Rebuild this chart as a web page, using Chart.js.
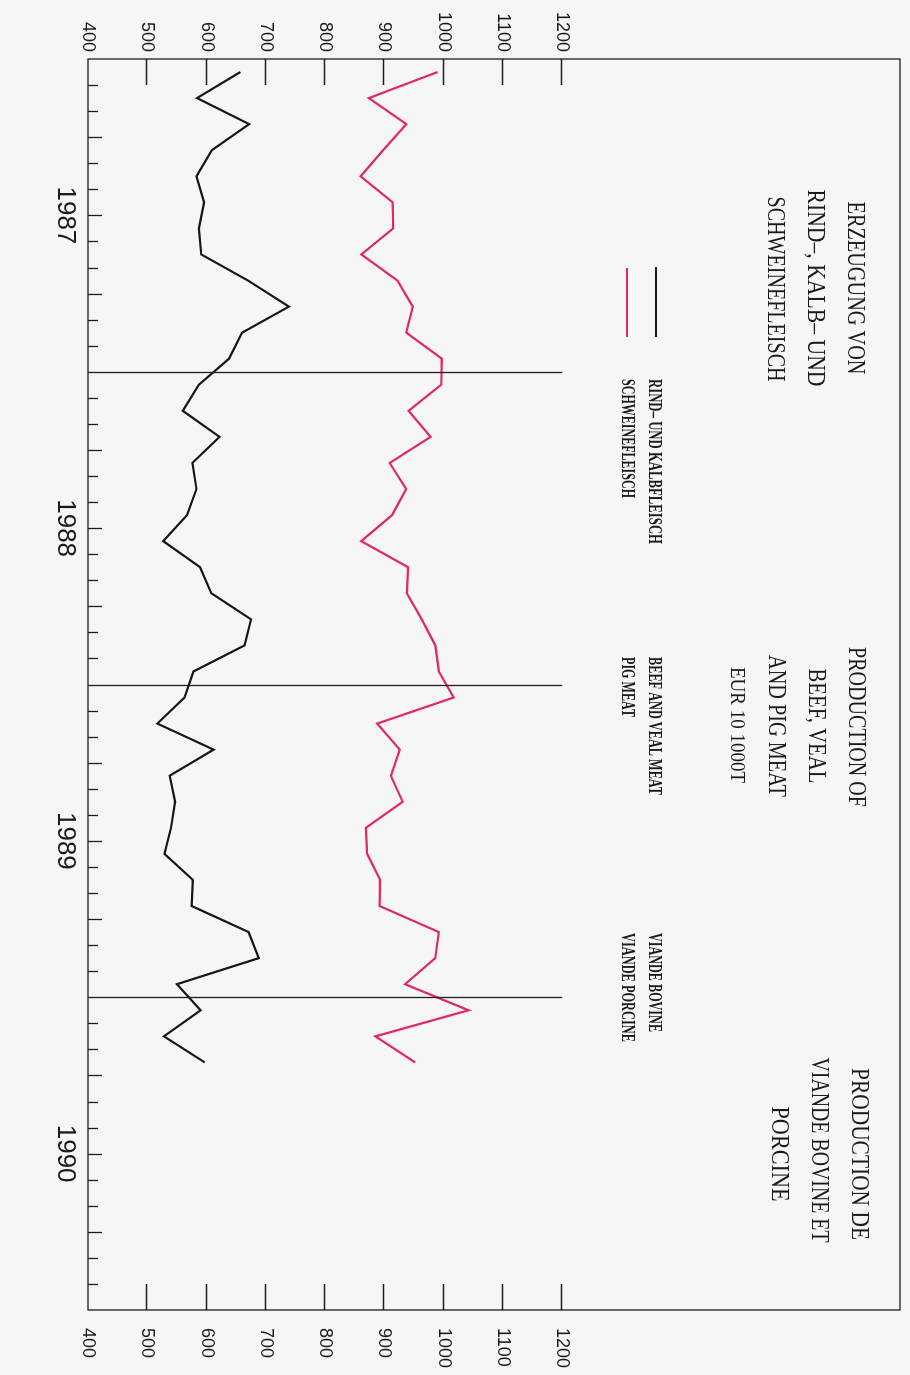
<!DOCTYPE html>
<html>
<head>
<meta charset="utf-8">
<title>Production of beef, veal and pig meat</title>
<script src="https://cdn.jsdelivr.net/npm/chart.js@4.4.0/dist/chart.umd.min.js"></script>
<style>
    html, body { margin: 0; padding: 0; background: #f6f6f6; overflow: hidden; }
    /* chart is drawn landscape, then turned a quarter clockwise like the printed page */
    #wrap {
        position: absolute; left: 0; top: 0;
        width: 1375px; height: 910px;
        transform-origin: 0 0;
        transform: translate(910px, 0) rotate(90deg);
    }
</style>
</head>
<body>
<div id="wrap"><canvas id="meatChart" width="1375" height="910"></canvas></div>
<script>
// Monthly production, EUR 10, 1000 t, from January 1987
const years = ['1987', '1988', '1989', '1990'];
const yTickValues = [400, 500, 600, 700, 800, 900, 1000, 1100, 1200];

const beefVeal = [657, 584, 672, 609, 583, 596, 587, 591, 670, 739, 660, 638,
                  587, 560, 622, 576, 583, 567, 527, 589, 608, 675, 664, 578,
                  563, 517, 612, 538, 547, 540, 529, 577, 575, 671, 688, 550,
                  590, 528, 597];
const pigMeat = [990, 874, 937, 898, 860, 914, 915, 861, 922, 948, 937, 997,
                 996, 941, 978, 909, 937, 913, 861, 940, 938, 963, 986, 992,
                 1017, 888, 926, 911, 931, 869, 871, 893, 892, 992, 986, 935,
                 1042, 885, 952];

const BLACK = '#161616';
const RED = '#e2295c';

// month index -> point in the middle of that month
function toPoints(values) {
    return values.map((v, i) => ({ x: i + 0.5, y: v }));
}

// Frame, inward ticks, year separators, titles and legend
const framePlugin = {
    id: 'frame',
    afterDraw(chart) {
        const ctx = chart.ctx;
        const area = chart.chartArea;
        const xs = chart.scales.x;
        const ys = chart.scales.y;

        ctx.save();
        ctx.strokeStyle = '#1e1e1e';
        ctx.lineWidth = 1.3;
        ctx.strokeRect(area.left, area.top, area.right - area.left, area.bottom - area.top);

        ctx.beginPath();
        for (let m = 1; m < years.length * 12; m++) {
            const px = Math.round(xs.getPixelForValue(m)) + 0.5;
            const len = m % 3 === 0 ? 14 : 10;
            ctx.moveTo(px, area.bottom);
            ctx.lineTo(px, area.bottom - len);
        }
        yTickValues.forEach(v => {
            if (v === yTickValues[0]) return;
            const py = Math.round(ys.getPixelForValue(v)) + 0.5;
            ctx.moveTo(area.left, py);
            ctx.lineTo(area.left + 26, py);
            ctx.moveTo(area.right, py);
            ctx.lineTo(area.right - 26, py);
        });
        for (let k = 1; k < years.length; k++) {
            const px = Math.round(xs.getPixelForValue(k * 12)) + 0.5;
            ctx.moveTo(px, ys.getPixelForValue(400));
            ctx.lineTo(px, ys.getPixelForValue(1200));
        }
        ctx.stroke();

        // titles in three languages
        const titleFont = '26px "Liberation Serif", "DejaVu Serif", serif';
        const titles = [
            ['ERZEUGUNG VON', 288, 55, 173, titleFont],
            ['RIND\u2013, KALB\u2013 UND', 288, 95, 197, titleFont],
            ['SCHWEINEFLEISCH', 289, 135, 185, titleFont],
            ['PRODUCTION OF', 727, 54, 160, titleFont],
            ['BEEF, VEAL', 726, 94, 115, titleFont],
            ['AND PIG MEAT', 726, 134, 142, titleFont],
            ['EUR 10 1000T', 725, 173, 116, '22px "Liberation Serif", "DejaVu Serif", serif'],
            ['PRODUCTION DE', 1154, 51, 172, titleFont],
            ['VIANDE BOVINE ET', 1150, 91, 185, titleFont],
            ['PORCINE', 1154, 131, 95, titleFont]
        ];
        ctx.fillStyle = '#1a1a1a';
        ctx.textAlign = 'center';
        ctx.textBaseline = 'middle';
        titles.forEach(t => {
            ctx.font = t[4];
            ctx.fillText(t[0], t[1], t[2], t[3]);
        });

        // legend
        ctx.lineWidth = 2.2;
        ctx.strokeStyle = BLACK;
        ctx.beginPath();
        ctx.moveTo(267, 254);
        ctx.lineTo(337, 254);
        ctx.stroke();
        ctx.strokeStyle = RED;
        ctx.beginPath();
        ctx.moveTo(268, 283);
        ctx.lineTo(337, 283);
        ctx.stroke();

        const legendFont = 'bold 18px "Liberation Serif", "DejaVu Serif", serif';
        const legendTexts = [
            ['RIND\u2013 UND KALBFLEISCH', 379, 256, 165],
            ['SCHWEINEFLEISCH', 379, 283, 119],
            ['BEEF AND VEAL MEAT', 657, 256, 138],
            ['PIG MEAT', 657, 283, 60],
            ['VIANDE BOVINE', 933, 256, 99],
            ['VIANDE PORCINE', 933, 283, 109]
        ];
        ctx.font = legendFont;
        ctx.textAlign = 'left';
        legendTexts.forEach(t => ctx.fillText(t[0], t[1], t[2], t[3]));
        ctx.restore();
    }
};

const tickFont = { family: '"Liberation Sans", Arial, sans-serif', size: 18 };

function valueLabel(v) {
    return yTickValues.includes(v) ? String(v) : '';
}

// no extra label padding, so the plot box lands where the printed one is
function noLabelPadding(scale) {
    scale.paddingTop = 0;
    scale.paddingBottom = 0;
    scale.paddingLeft = 0;
    scale.paddingRight = 0;
}

function valueAxis(position, width, padding) {
    return {
        type: 'linear',
        position: position,
        min: 400,
        max: 1770,
        afterFit: scale => { scale.width = width; noLabelPadding(scale); },
        grid: { display: false, drawTicks: false },
        border: { display: false },
        ticks: {
            stepSize: 100,
            autoSkip: false,
            padding: padding,
            color: '#1a1a1a',
            font: tickFont,
            callback: valueLabel
        }
    };
}

document.addEventListener('DOMContentLoaded', function() {
    const ctx = document.getElementById('meatChart').getContext('2d');
    new Chart(ctx, {
        type: 'line',
        data: {
            datasets: [{
                label: 'Beef and veal meat',
                data: toPoints(beefVeal),
                borderColor: BLACK,
                borderWidth: 2.2,
                pointRadius: 0,
                tension: 0,
                fill: false
            }, {
                label: 'Pig meat',
                data: toPoints(pigMeat),
                borderColor: RED,
                borderWidth: 2.2,
                pointRadius: 0,
                tension: 0,
                fill: false
            }]
        },
        options: {
            responsive: false,
            animation: false,
            devicePixelRatio: 1,
            layout: { padding: { top: 10, left: 0, right: 0, bottom: 0 } },
            plugins: {
                legend: { display: false },
                tooltip: { enabled: false }
            },
            scales: {
                x: {
                    type: 'linear',
                    position: 'bottom',
                    min: 0,
                    max: years.length * 12,
                    afterFit: scale => { scale.height = 88; noLabelPadding(scale); },
                    grid: { display: false, drawTicks: false },
                    border: { display: false },
                    ticks: {
                        stepSize: 1,
                        autoSkip: false,
                        maxRotation: 0,
                        padding: 7,
                        color: '#1a1a1a',
                        font: { family: '"Liberation Sans", Arial, sans-serif', size: 26 },
                        callback: v => (v % 12 === 6 ? years[(v - 6) / 12] : '')
                    }
                },
                y: valueAxis('left', 59, 7),
                y2: valueAxis('right', 65, 18)
            }
        },
        plugins: [framePlugin]
    });
});
</script>
</body>
</html>
